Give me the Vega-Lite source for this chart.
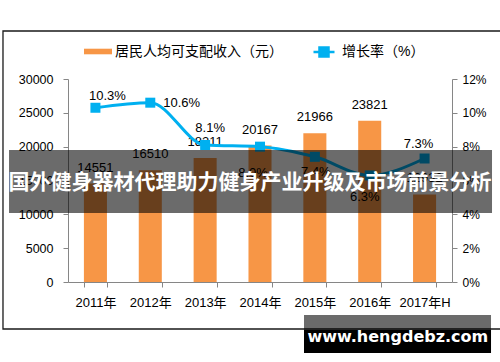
{
  "$schema": "https://vega.github.io/schema/vega-lite/v6.json",
  "width": 384,
  "height": 203,
  "autosize": {"type": "none"},
  "padding": {"left": 68, "top": 79, "right": 48, "bottom": 80},
  "background": "white",
  "config": {
    "view": {"stroke": null},
    "font": "Liberation Sans, Noto Sans CJK SC",
    "axis": {
      "labelFont": "Liberation Sans, Noto Sans CJK SC",
      "labelColor": "#000000",
      "domainColor": "#868686",
      "tickColor": "#868686",
      "grid": false,
      "title": null
    },
    "legend": {
      "labelFont": "Liberation Sans, Noto Sans CJK SC",
      "labelColor": "#000000",
      "labelLimit": 0,
      "padding": 0
    }
  },
  "datasets": {
    "main": [
      {"year": "2011年", "income": 14551, "rate": 0.103},
      {"year": "2012年", "income": 16510, "rate": 0.106},
      {"year": "2013年", "income": 18311, "rate": 0.081},
      {"year": "2014年", "income": 20167, "rate": 0.080},
      {"year": "2015年", "income": 21966, "rate": 0.074},
      {"year": "2016年", "income": 23821, "rate": 0.063},
      {"year": "2017年H", "income": 12932, "rate": 0.073}
    ]
  },
  "layer": [
    {
      "data": {"name": "main"},
      "encoding": {
        "x": {
          "field": "year", "type": "nominal", "sort": null,
          "scale": {"type": "band", "paddingInner": 0.58, "paddingOuter": 0.29},
          "axis": {"labelAngle": 0, "labelFontSize": 13, "tickBand": "extent", "tickSize": 5, "labelPadding": 9, "domainColor": "#868686"}
        },
        "y": {
          "field": "income", "type": "quantitative",
          "scale": {"domain": [0, 30000], "nice": false},
          "axis": {"orient": "left", "format": "d", "values": [0, 5000, 10000, 15000, 20000, 25000, 30000], "labelFontSize": 12.5, "tickSize": 5, "labelPadding": 10}
        }
      },
      "layer": [
        {
          "mark": {"type": "bar"},
          "encoding": {
            "fill": {
              "datum": "居民人均可支配收入（元）",
              "scale": {"range": ["#F79646"]},
              "legend": {
                "title": null, "orient": "none", "legendX": 15, "legendY": -42.5,
                "symbolType": "M-1,-0.2H1V0.2H-1Z", "symbolSize": 784,
                "labelFontSize": 14, "labelOffset": 2, "labelLimit": 400, "padding": 0
              }
            }
          }
        },
        {
          "mark": {"type": "text", "baseline": "middle", "dy": -16, "fontSize": 13, "font": "Liberation Sans", "color": "#000000"},
          "encoding": {"text": {"field": "income", "type": "quantitative", "format": "d"}}
        }
      ]
    },
    {
      "data": {"name": "main"},
      "encoding": {
        "x": {
          "field": "year", "type": "nominal", "sort": null,
          "scale": {"type": "point", "padding": 0.5},
          "axis": null
        },
        "y": {
          "field": "rate", "type": "quantitative",
          "scale": {"domain": [0, 0.12], "nice": false},
          "axis": {"orient": "right", "format": ".0%", "values": [0, 0.02, 0.04, 0.06, 0.08, 0.10, 0.12], "labelFontSize": 12, "tickSize": 5, "labelPadding": 5}
        }
      },
      "layer": [
        {
          "mark": {"type": "line", "interpolate": "monotone", "strokeWidth": 3},
          "encoding": {
            "stroke": {
              "datum": "增长率（%）",
              "scale": {"range": ["#00B0F0"]},
              "legend": {
                "title": null, "orient": "none", "legendX": 244, "legendY": -39,
                "symbolType": "M-1,0H1M-0.43,-0.43H0.43V0.43H-0.43Z", "symbolSize": 441,
                "symbolStrokeWidth": 2.5, "labelFontSize": 14, "labelOffset": 6, "labelLimit": 400, "padding": 0,
                "encode": {"symbols": {"update": {"fill": {"value": "#00B0F0"}, "stroke": {"value": "#00B0F0"}}}}
              }
            }
          }
        },
        {
          "mark": {"type": "point", "shape": "square", "filled": true, "size": 100, "color": "#00B0F0", "opacity": 1}
        },
        {
          "transform": [{"filter": "datum.year == '2011年'"}],
          "mark": {"type": "text", "fontSize": 13, "font": "Liberation Sans", "color": "#000000", "baseline": "middle", "dx": 12, "dy": -12},
          "encoding": {"text": {"field": "rate", "type": "quantitative", "format": ".1%"}}
        },
        {
          "transform": [{"filter": "datum.year == '2012年'"}],
          "mark": {"type": "text", "fontSize": 13, "font": "Liberation Sans", "color": "#000000", "baseline": "middle", "align": "left", "dx": 13, "dy": 0},
          "encoding": {"text": {"field": "rate", "type": "quantitative", "format": ".1%"}}
        },
        {
          "transform": [{"filter": "datum.year == '2013年'"}],
          "mark": {"type": "text", "fontSize": 13, "font": "Liberation Sans", "color": "#000000", "baseline": "middle", "dx": 5, "dy": -17},
          "encoding": {"text": {"field": "rate", "type": "quantitative", "format": ".1%"}}
        },
        {
          "transform": [{"filter": "datum.year == '2014年'"}],
          "mark": {"type": "text", "fontSize": 13, "font": "Liberation Sans", "color": "#000000", "baseline": "middle", "dx": -7, "dy": 26},
          "encoding": {"text": {"field": "rate", "type": "quantitative", "format": ".1%"}}
        },
        {
          "transform": [{"filter": "datum.year == '2015年'"}],
          "mark": {"type": "text", "fontSize": 13, "font": "Liberation Sans", "color": "#000000", "baseline": "middle", "dx": 1, "dy": 15},
          "encoding": {"text": {"field": "rate", "type": "quantitative", "format": ".1%"}}
        },
        {
          "transform": [{"filter": "datum.year == '2016年'"}],
          "mark": {"type": "text", "fontSize": 13, "font": "Liberation Sans", "color": "#000000", "baseline": "middle", "dx": -5, "dy": 22},
          "encoding": {"text": {"field": "rate", "type": "quantitative", "format": ".1%"}}
        },
        {
          "transform": [{"filter": "datum.year == '2017年H'"}],
          "mark": {"type": "text", "fontSize": 13, "font": "Liberation Sans", "color": "#000000", "baseline": "middle", "dx": -6, "dy": -15},
          "encoding": {"text": {"field": "rate", "type": "quantitative", "format": ".1%"}}
        }
      ]
    },
    {
      "data": {"values": [{}]},
      "layer": [
        {
          "mark": {"type": "rect", "fill": "transparent", "stroke": "#1a1a1a", "strokeWidth": 1.3},
          "encoding": {
            "x": {"datum": -0.1693, "type": "quantitative", "scale": {"domain": [0, 1], "nice": false, "zero": false}, "axis": null},
            "x2": {"datum": 1.128},
            "y": {"datum": 1.2365, "type": "quantitative", "scale": {"domain": [0, 1], "nice": false, "zero": false}, "axis": null},
            "y2": {"datum": -0.2315}
          }
        },
        {
          "mark": {"type": "rect", "fill": "#000000", "opacity": 0.58},
          "encoding": {
            "x": {"datum": -0.1536, "type": "quantitative"},
            "x2": {"datum": 1.1042},
            "y": {"datum": 0.6502, "type": "quantitative"},
            "y2": {"datum": 0.3399}
          }
        },
        {
          "mark": {"type": "text", "text": "国外健身器材代理助力健身产业升级及市场前景分析", "font": "Noto Sans CJK SC", "fontWeight": "bold", "fontSize": 21, "color": "#ffffff", "align": "center", "baseline": "middle"},
          "encoding": {
            "x": {"datum": 0.474, "type": "quantitative"},
            "y": {"datum": 0.4877, "type": "quantitative"}
          }
        },
        {
          "mark": {"type": "rect", "fill": "#000000", "opacity": 0.58},
          "encoding": {
            "x": {"datum": 0.6146, "type": "quantitative"},
            "x2": {"datum": 1.1016},
            "y": {"datum": -0.1626, "type": "quantitative"},
            "y2": {"datum": -0.3498}
          }
        },
        {
          "mark": {"type": "rect", "fill": "#000000", "opacity": 1},
          "encoding": {
            "x": {"datum": 0.6146, "type": "quantitative"},
            "x2": {"datum": 1.1016},
            "y": {"datum": -0.2365, "type": "quantitative"},
            "y2": {"datum": -0.3498}
          }
        },
        {
          "mark": {"type": "text", "text": "www.hengdebz.com", "font": "DejaVu Sans", "fontWeight": "bold", "fontSize": 16, "color": "#ffffff", "align": "center", "baseline": "middle"},
          "encoding": {
            "x": {"datum": 0.859, "type": "quantitative"},
            "y": {"datum": -0.271, "type": "quantitative"}
          }
        }
      ]
    }
  ],
  "resolve": {"scale": {"x": "independent", "y": "independent", "fill": "independent", "stroke": "independent"}}
}
